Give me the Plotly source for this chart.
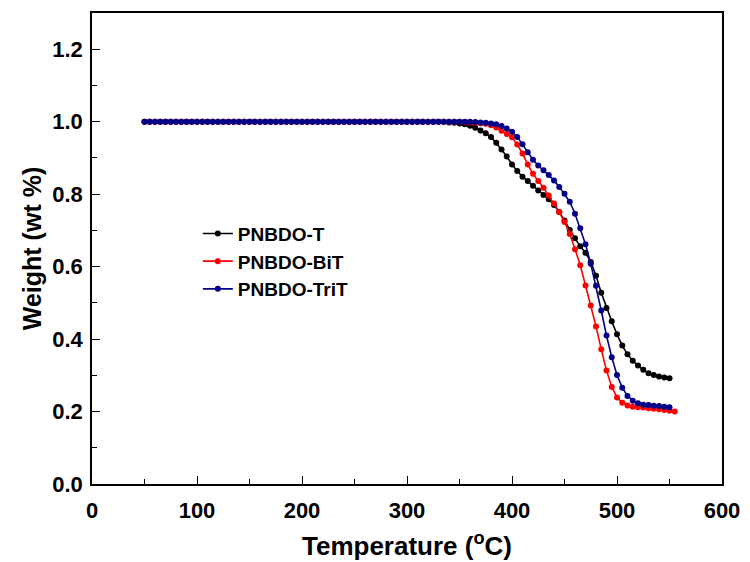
import plotly.graph_objects as go

# Temperature (°C)
temp_T = [50, 55, 60, 65, 70, 75, 80, 85, 90, 95, 100, 105, 110, 115, 120, 125, 130, 135, 140, 145,
          150, 155, 160, 165, 170, 175, 180, 185, 190, 195, 200, 205, 210, 215, 220, 225, 230, 235, 240, 245,
          250, 255, 260, 265, 270, 275, 280, 285, 290, 295, 300, 305, 310, 315, 320, 325, 330, 335, 340, 345,
          350, 355, 360, 365, 370, 375, 380, 385, 390, 395, 400, 405, 410, 415, 420, 425, 430, 435, 440, 445,
          450, 455, 460, 465, 470, 475, 480, 485, 490, 495, 500, 505, 510, 515, 520, 525, 530, 535, 540, 545,
          550]
temp_BiT = [50, 55, 60, 65, 70, 75, 80, 85, 90, 95, 100, 105, 110, 115, 120, 125, 130, 135, 140, 145,
            150, 155, 160, 165, 170, 175, 180, 185, 190, 195, 200, 205, 210, 215, 220, 225, 230, 235, 240, 245,
            250, 255, 260, 265, 270, 275, 280, 285, 290, 295, 300, 305, 310, 315, 320, 325, 330, 335, 340, 345,
            350, 355, 360, 365, 370, 375, 380, 385, 390, 395, 400, 405, 410, 415, 420, 425, 430, 435, 440, 445,
            450, 455, 460, 465, 470, 475, 480, 485, 490, 495, 500, 505, 510, 515, 520, 525, 530, 535, 540, 545,
            550, 555]
temp_TriT = [50, 55, 60, 65, 70, 75, 80, 85, 90, 95, 100, 105, 110, 115, 120, 125, 130, 135, 140, 145,
             150, 155, 160, 165, 170, 175, 180, 185, 190, 195, 200, 205, 210, 215, 220, 225, 230, 235, 240, 245,
             250, 255, 260, 265, 270, 275, 280, 285, 290, 295, 300, 305, 310, 315, 320, 325, 330, 335, 340, 345,
             350, 355, 360, 365, 370, 375, 380, 385, 390, 395, 400, 405, 410, 415, 420, 425, 430, 435, 440, 445,
             450, 455, 460, 465, 470, 475, 480, 485, 490, 495, 500, 505, 510, 515, 520, 525, 530, 535, 540, 545,
             550]

# Weight fractions
w_T = [1.0, 1.0, 1.0, 1.0, 1.0, 1.0, 1.0, 1.0, 1.0, 1.0, 1.0, 1.0, 1.0, 1.0, 1.0, 1.0, 1.0, 1.0, 1.0, 1.0,
       1.0, 1.0, 1.0, 1.0, 1.0, 1.0, 1.0, 1.0, 1.0, 1.0, 1.0, 1.0, 1.0, 1.0, 1.0, 1.0, 1.0, 1.0, 1.0, 1.0,
       1.0, 1.0, 1.0, 1.0, 1.0, 1.0, 1.0, 1.0, 1.0, 1.0, 1.0, 1.0, 1.0, 1.0, 1.0, 1.0, 1.0, 1.0, 0.998, 0.997,
       0.995, 0.993, 0.989, 0.983, 0.976, 0.968, 0.958, 0.942, 0.923, 0.904, 0.882, 0.864, 0.848, 0.836, 0.823, 0.810,
       0.798, 0.786, 0.770, 0.751, 0.727, 0.701, 0.678, 0.656, 0.638, 0.613, 0.575, 0.528, 0.486, 0.449, 0.413, 0.382,
       0.358, 0.340, 0.327, 0.315, 0.306, 0.301, 0.297, 0.294, 0.292]
w_BiT = [1.0, 1.0, 1.0, 1.0, 1.0, 1.0, 1.0, 1.0, 1.0, 1.0, 1.0, 1.0, 1.0, 1.0, 1.0, 1.0, 1.0, 1.0, 1.0, 1.0,
         1.0, 1.0, 1.0, 1.0, 1.0, 1.0, 1.0, 1.0, 1.0, 1.0, 1.0, 1.0, 1.0, 1.0, 1.0, 1.0, 1.0, 1.0, 1.0, 1.0,
         1.0, 1.0, 1.0, 1.0, 1.0, 1.0, 1.0, 1.0, 1.0, 1.0, 1.0, 1.0, 1.0, 1.0, 1.0, 1.0, 1.0, 1.0, 1.0, 1.0,
         1.0, 0.999, 0.998, 0.997, 0.996, 0.994, 0.990, 0.984, 0.975, 0.966, 0.957, 0.937, 0.912, 0.882, 0.856, 0.836,
         0.818, 0.796, 0.774, 0.751, 0.723, 0.690, 0.648, 0.604, 0.548, 0.493, 0.435, 0.372, 0.313, 0.268, 0.239, 0.224,
         0.217, 0.213, 0.212, 0.211, 0.209, 0.208, 0.206, 0.204, 0.202, 0.200]
w_TriT = [1.0, 1.0, 1.0, 1.0, 1.0, 1.0, 1.0, 1.0, 1.0, 1.0, 1.0, 1.0, 1.0, 1.0, 1.0, 1.0, 1.0, 1.0, 1.0, 1.0,
          1.0, 1.0, 1.0, 1.0, 1.0, 1.0, 1.0, 1.0, 1.0, 1.0, 1.0, 1.0, 1.0, 1.0, 1.0, 1.0, 1.0, 1.0, 1.0, 1.0,
          1.0, 1.0, 1.0, 1.0, 1.0, 1.0, 1.0, 1.0, 1.0, 1.0, 1.0, 1.0, 1.0, 1.0, 1.0, 1.0, 1.0, 1.0, 1.0, 1.0,
          1.0, 1.0, 1.0, 0.999, 0.998, 0.997, 0.995, 0.993, 0.988, 0.981, 0.972, 0.958, 0.938, 0.916, 0.895, 0.879,
          0.866, 0.853, 0.838, 0.820, 0.801, 0.779, 0.746, 0.706, 0.662, 0.608, 0.547, 0.479, 0.410, 0.350, 0.301, 0.266,
          0.243, 0.230, 0.223, 0.219, 0.218, 0.216, 0.215, 0.213, 0.212]

names = ["PNBDO-T", "PNBDO-BiT", "PNBDO-TriT"]
colors = ["#000000", "#ff0000", "#00008b"]
xs = [temp_T, temp_BiT, temp_TriT]
ys = [w_T, w_BiT, w_TriT]

x_ticks = [0, 100, 200, 300, 400, 500, 600]
y_ticks = [0.0, 0.2, 0.4, 0.6, 0.8, 1.0, 1.2]

FONT = "Arial, Liberation Sans, sans-serif"

fig = go.Figure()
for x, y, n, c in zip(xs, ys, names, colors):
    fig.add_trace(go.Scatter(
        x=x, y=y, name=n, mode="lines+markers",
        line=dict(color=c, width=1.6),
        marker=dict(color=c, size=6, symbol="circle", line=dict(width=0)),
    ))

axis_common = dict(
    showline=True, linecolor="black", linewidth=1.5, mirror=True,
    ticks="inside", ticklen=8, tickwidth=1.3, tickcolor="black",
    showgrid=False, zeroline=False, automargin=False,
    tickfont=dict(family=FONT, size=22, color="black", weight="bold"),
)

fig.update_xaxes(
    range=[0, 600], tickvals=x_ticks, ticktext=[str(v) for v in x_ticks],
    ticklabelstandoff=6,
    minor=dict(ticks="inside", ticklen=5, tickwidth=1.2, tickcolor="black", dtick=50),
    title=dict(text="Temperature (<sup>o</sup>C)", standoff=15,
               font=dict(family=FONT, size=26, color="black", weight="bold")),
    **axis_common,
)
fig.update_yaxes(
    range=[0, 1.3], tickvals=y_ticks, ticktext=[f"{v:.1f}" for v in y_ticks],
    ticklabelstandoff=3,
    minor=dict(ticks="inside", ticklen=5, tickwidth=1.2, tickcolor="black", dtick=0.1),
    title=dict(text="Weight (wt %)", standoff=4,
               font=dict(family=FONT, size=25, color="black", weight="bold")),
    **axis_common,
)

fig.update_layout(
    width=750, height=562,
    margin=dict(l=92, r=28, t=13, b=78),
    plot_bgcolor="white", paper_bgcolor="white",
    legend=dict(
        x=0.168, y=0.572, xanchor="left", yanchor="top",
        bgcolor="rgba(0,0,0,0)",
        font=dict(family=FONT, size=19, color="black", weight="bold"),
    ),
)

fig.write_html("out.html")
